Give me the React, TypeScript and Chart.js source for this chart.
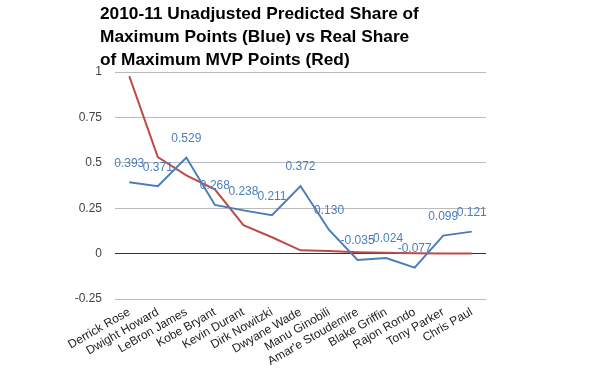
import React, { useEffect, useRef } from "react";
import { Chart, registerables } from "chart.js";

Chart.register(...registerables);

const players = [
  "Derrick Rose",
  "Dwight Howard",
  "LeBron James",
  "Kobe Bryant",
  "Kevin Durant",
  "Dirk Nowitzki",
  "Dwyane Wade",
  "Manu Ginobili",
  "Amar'e Stoudemire",
  "Blake Griffin",
  "Rajon Rondo",
  "Tony Parker",
  "Chris Paul",
];

const predictedShare = [0.393, 0.371, 0.529, 0.268, 0.238, 0.211, 0.372, 0.13, -0.035, -0.024, -0.077, 0.099, 0.121];

const realShare = [0.977, 0.531, 0.431, 0.354, 0.157, 0.09, 0.018, 0.014, 0.008, 0.004, 0.002, 0.001, 0.001];

const titleLines = [
  "2010-11 Unadjusted Predicted Share of",
  "Maximum Points (Blue) vs Real Share",
  "of Maximum MVP Points (Red)",
];

const FONT = "Arial, 'Liberation Sans', sans-serif";

const titlePlugin = {
  id: "leftTitle",
  afterDraw(chart: any) {
    const ctx = chart.ctx;
    ctx.save();
    ctx.font = `bold 17.3px ${FONT}`;
    ctx.fillStyle = "#000";
    ctx.textAlign = "left";
    ctx.textBaseline = "alphabetic";
    titleLines.forEach((line, i) => {
      ctx.fillText(line, 100, 19 + i * 23);
    });
    ctx.restore();
  },
};

const valueLabels = {
  id: "valueLabels",
  afterDatasetsDraw(chart: any) {
    const meta = chart.getDatasetMeta(0);
    const ctx = chart.ctx;
    ctx.save();
    ctx.font = `12px ${FONT}`;
    ctx.fillStyle = "#4a7ebb";
    ctx.textAlign = "center";
    ctx.textBaseline = "middle";
    meta.data.forEach((pt: any, i: number) => {
      const v = predictedShare[i];
      ctx.fillText(v.toFixed(3), pt.x, pt.y - 19);
    });
    ctx.restore();
  },
};

export default function App() {
  const ref = useRef<HTMLCanvasElement | null>(null);
  useEffect(() => {
    document.body.style.margin = "0";
    const canvas = ref.current;
    if (!canvas) return;
    const chart = new Chart(canvas, {
      type: "line",
      data: {
        labels: players,
        datasets: [
          {
            label: "Predicted",
            data: predictedShare,
            borderColor: "#4a7ebb",
            backgroundColor: "#4a7ebb",
            borderWidth: 2,
            pointRadius: 0,
            tension: 0,
          },
          {
            label: "Real",
            data: realShare,
            borderColor: "#be4b48",
            backgroundColor: "#be4b48",
            borderWidth: 2,
            pointRadius: 0,
            tension: 0,
          },
        ],
      },
      options: {
        animation: false,
        responsive: false,
        layout: { padding: { left: 0, right: 114, top: 72, bottom: 0 } },
        plugins: {
          legend: { display: false },
          tooltip: { enabled: false },
          title: { display: false },
        },
        scales: {
          x: {
            type: "category",
            offset: true,
            grid: { display: false, drawTicks: false },
            border: { display: false },
            ticks: {
              autoSkip: false,
              minRotation: 30,
              maxRotation: 30,
              color: "#222",
              font: { family: FONT, size: 12 },
              padding: 6,
            },
            afterFit(s: any) {
              s.height = 72;
            },
          },
          y: {
            min: -0.25,
            max: 1,
            grid: {
              drawTicks: false,
              color: (c: any) => (c.tick && c.tick.value === 0 ? "#333" : "#bbb"),
              lineWidth: 1,
            },
            border: { display: false },
            ticks: {
              stepSize: 0.25,
              color: "#444",
              padding: 13,
              font: { family: FONT, size: 12 },
              callback: (v: any) => String(Number(v)),
            },
            afterFit(s: any) {
              s.width = 115;
            },
          },
        },
      },
      plugins: [valueLabels, titlePlugin],
    });
    return () => chart.destroy();
  }, []);
  return (
    <div style={{ width: 600, height: 371 }}>
      <canvas ref={ref} width={600} height={371} style={{ display: "block" }} />
    </div>
  );
}
